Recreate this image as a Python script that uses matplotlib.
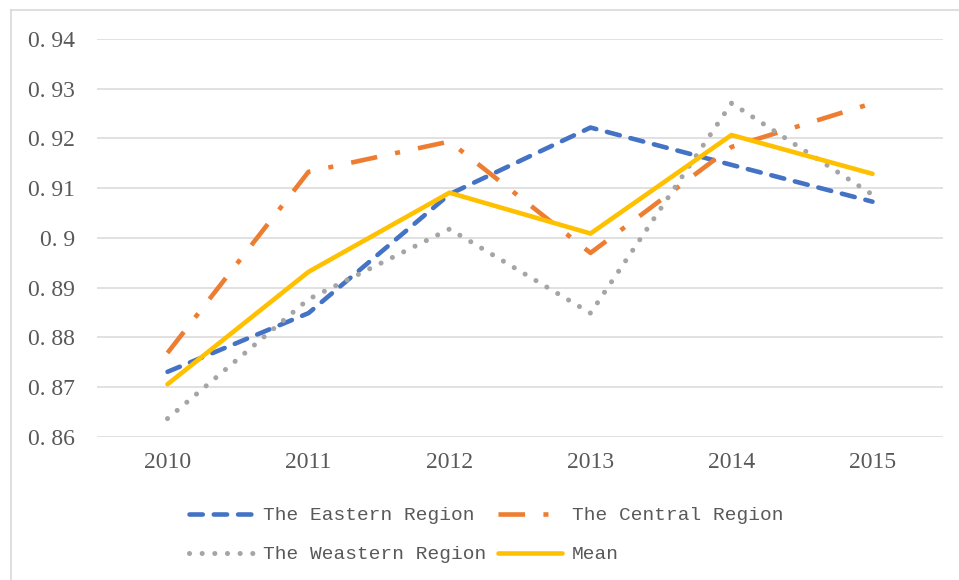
import matplotlib
matplotlib.use("Agg")
import matplotlib.pyplot as plt
from matplotlib.lines import Line2D

years = ["2010", "2011", "2012", "2013", "2014", "2015"]
eastern = [0.8731, 0.8849, 0.9088, 0.9222, 0.9147, 0.9073]
central = [0.8769, 0.9133, 0.9194, 0.8970, 0.9183, 0.9271]
western = [0.8637, 0.8877, 0.9018, 0.8849, 0.9271, 0.9087]
mean = [0.8706, 0.8932, 0.9091, 0.9009, 0.9207, 0.9129]
yticks = [0.86, 0.87, 0.88, 0.89, 0.90, 0.91, 0.92, 0.93, 0.94]
ytick_labels = ["0. 86", "0. 87", "0. 88", "0. 89", "0. 9", "0. 91", "0. 92", "0. 93", "0. 94"]

MONO = "Liberation Mono"
SERIF = "Liberation Serif"
TXT = "#595959"
plt.rcParams["font.family"] = [MONO, "DejaVu Sans"]

W, H = 959, 580
fig = plt.figure(figsize=(W / 100, H / 100), dpi=100)
ax = fig.add_axes([97 / W, 1 - 437 / H, (943 - 97) / W, (437 - 39) / H])

x = list(range(len(years)))
lw = 3.3
ax.plot(x, eastern, color="#4472C4", lw=lw, dashes=(2.9, 2.4),
        dash_capstyle="round", solid_capstyle="round", label="The Eastern Region", zorder=3)
ax.plot(x, central, color="#ED7D31", lw=lw, dashes=(5.8, 4.0, 1.1, 4.0),
        dash_capstyle="butt", label="The Central Region", zorder=3)
ax.plot(x, western, color="#A5A5A5", lw=lw * 1.1, dashes=(0.01, 2.5),
        dash_capstyle="round", label="The Weastern Region", zorder=3)
ax.plot(x, mean, color="#FFC000", lw=lw, solid_capstyle="round",
        solid_joinstyle="miter", label="Mean", zorder=4)

ax.set_xlim(-0.5, len(years) - 0.5)
ax.set_ylim(0.86, 0.94)
ax.set_xticks(x)
ax.set_xticklabels(years)
ax.set_yticks(yticks)
ax.set_yticklabels(ytick_labels)
ax.tick_params(axis="both", length=0, labelsize=17, labelcolor=TXT)
ax.tick_params(axis="y", pad=16)
ax.tick_params(axis="x", pad=11)
for t in ax.get_xticklabels() + ax.get_yticklabels():
    t.set_fontfamily(SERIF)
ax.grid(axis="y", color="#D9D9D9", lw=1.1, zorder=0)
for s in ax.spines.values():
    s.set_visible(False)

handles, labels = ax.get_legend_handles_labels()
order = [0, 2, 1, 3]
leg = fig.legend([handles[i] for i in order], [labels[i] for i in order],
                 ncol=2, loc="center", bbox_to_anchor=(486 / W, 1 - 535 / H),
                 frameon=False, fontsize=14, handlelength=3.3, handletextpad=0.5,
                 columnspacing=0.6, labelspacing=1.1)
for t in leg.get_texts():
    t.set_color(TXT)

# chart-area border (top and left visible)
fig.add_artist(Line2D([11 / W, 1], [1 - 10 / H, 1 - 10 / H], color="#D9D9D9", lw=1.2))
fig.add_artist(Line2D([11 / W, 11 / W], [0, 1 - 10 / H], color="#D9D9D9", lw=1.2))

fig.savefig("out.png", dpi=100)
